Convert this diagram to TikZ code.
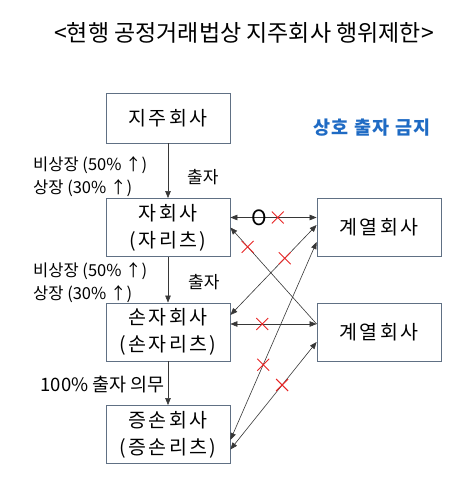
\documentclass[tikz,border=0pt]{standalone}
\usepackage{fontspec}
\setmainfont{Noto Sans CJK KR}
\usetikzlibrary{arrows.meta,shapes.misc}
\definecolor{boxline}{RGB}{96,112,132}
\definecolor{linkgray}{RGB}{55,55,55}
\definecolor{banred}{RGB}{232,36,36}
\definecolor{noteblue}{RGB}{31,107,196}
\tikzset{
    company/.style={draw=boxline,line width=0.8pt,fill=white,minimum width=124pt,minimum height=58pt,align=center,
        font=\fontsize{19.5}{27}\selectfont\addfontfeature{LetterSpace=12}},
    link/.style={draw=linkgray,line width=0.6pt,>={Triangle[length=7pt,width=5.5pt]}},
    nox/.style={cross out,draw=banred,line width=0.9pt,minimum size=11pt,inner sep=0pt},
    stake/.style={align=left,anchor=west,inner sep=0pt,font=\fontsize{16.5}{23}\selectfont},
    invest/.style={anchor=west,inner sep=0pt,font=\fontsize{17}{17}\selectfont}
}
\begin{document}
\begin{tikzpicture}[x=1pt,y=1pt]
        % Draw page frame
        \useasboundingbox (0,0) rectangle (468,495);
        % Draw title
        \node[font=\fontsize{23}{23}\selectfont] (title) at (244,462) {<현행 공정거래법상 지주회사 행위제한>};
        \node[font=\bfseries\fontsize{18.5}{18.5}\selectfont\addfontfeature{LetterSpace=8},text=noteblue] (mutual) at (372,367) {상호 출자 금지};
        % Draw company chain
        \node[company,minimum height=50pt] (hold) at (168,377) {지주회사};
        \node[company] (sub) at (168,267.5) {자회사\\(자리츠)};
        \node[company] (grand) at (168,163) {손자회사\\(손자리츠)};
        \node[company] (great) at (168,60.5) {증손회사\\(증손리츠)};
        % Draw affiliates
        \node[company] (aff1) at (379,267.5) {계열회사};
        \node[company] (aff2) at (379,163) {계열회사};
        % Draw investment arrows
        \draw[link,->] (hold) -- (sub);
        \draw[link,->] (sub) -- (grand);
        \draw[link,->] (grand) -- (great);
        \node[stake] (stake1) at (33,318.5) {비상장 (50\% ↑)\\상장 (30\% ↑)};
        \node[stake] (stake2) at (33,212.5) {비상장 (50\% ↑)\\상장 (30\% ↑)};
        \node[invest] (invest1) at (187,318) {출자};
        \node[invest] (invest2) at (188,213) {출자};
        \node[anchor=east,inner sep=0pt,font=\fontsize{18.5}{18.5}\selectfont] (duty) at (165,110) {100\% 출자 의무};
        % Draw cross links to affiliates
        \draw[link,<->] ([yshift=10pt]sub.east) -- node[pos=0.34,inner sep=0pt,font=\fontsize{21}{21}\selectfont] (allowed) {O}
            node[nox,pos=0.55] (x1) {} ([yshift=10pt]aff1.west);
        \draw[link,<-] (sub.east) -- node[nox,pos=0.2] (x2) {} ([yshift=8pt]aff2.west);
        \draw[link,<->] ([yshift=17pt]grand.east) -- node[nox,pos=0.63] (x3) {} ([yshift=2.5pt]aff1.west);
        \draw[link,<->] ([yshift=8pt]grand.east) -- node[nox,pos=0.37] (x4) {} ([yshift=8pt]aff2.west);
        \draw[link,<->] ([yshift=-5.5pt]great.east) -- node[nox,pos=0.38] (x5) {} ([yshift=-14.5pt]aff1.west);
        \draw[link,<->] ([yshift=-15pt]great.east) -- node[nox,pos=0.6] (x6) {} ([yshift=-10pt]aff2.west);
\end{tikzpicture}
\end{document}
